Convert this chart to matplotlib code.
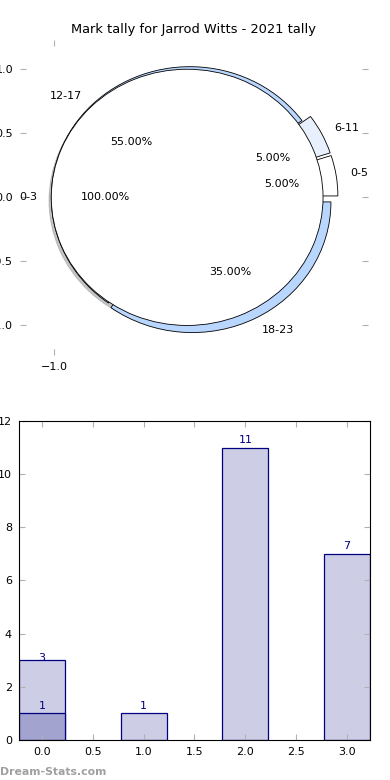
import matplotlib
matplotlib.use('Agg')
import matplotlib.pyplot as plt
from matplotlib.ticker import FuncFormatter

# outer ring: marks by minute band
ring_labels = ['0-5', '6-11', '12-17', '18-23']
ring_values = [1, 1, 11, 7]
ring_colors = ['#ffffff', '#e8f0fe', '#b8d6fe', '#b8d6fe']

# inner pie
inner_labels = ['0-3']
inner_values = [1]

# bar chart
bar_x = [0, 1, 2, 3]
bar_totals = [3, 1, 11, 7]
extra_x = [0]
extra_vals = [1]

tick_grey = '#b0b0b0'

plt.rcParams['font.family'] = ['DejaVu Sans']
plt.rcParams['font.size'] = 8

fig = plt.figure(figsize=(3.9, 7.8), dpi=100)

# ---- pie ----
ax1 = fig.add_axes([0.0513, 0.545, 0.892, 0.404])
ax1.pie(ring_values, labels=ring_labels, colors=ring_colors, explode=[0.07, 0.07, 0, 0.04],
        autopct='%1.2f%%', pctdistance=0.6, labeldistance=1.1, radius=1.02,
        startangle=0, counterclock=True,
        wedgeprops={'edgecolor': 'black', 'linewidth': 0.6},
        textprops={'fontsize': 8})
ax1.pie(inner_values, labels=inner_labels, colors=['white'], autopct='%1.2f%%',
        explode=[0.02], startangle=0,
        pctdistance=0.6, labeldistance=1.1, radius=1.0,
        shadow={'ox': -0.012, 'oy': -0.018, 'shade': 0.45},
        wedgeprops={'edgecolor': 'black', 'linewidth': 0.6},
        textprops={'fontsize': 8})
ax1.set_aspect('auto')
ax1.set_xlim(-1.25, 1.31)
ax1.set_ylim(-1.23, 1.23)
ax1.set_frame_on(False)
ax1.set_xticks([-1.0])
ax1.set_yticks([-1.0, -0.5, 0.0, 0.5, 1.0])
fmt = FuncFormatter(lambda v, p: ('%.1f' % v).replace('-', '\u2212'))
ax1.xaxis.set_major_formatter(fmt)
ax1.yaxis.set_major_formatter(fmt)
ax1.tick_params(direction='in', length=4, color=tick_grey, top=True, right=True,
                labelsize=8, pad=5)
ax1.set_title('Mark tally for Jarrod Witts - 2021 tally', fontsize=9.4, pad=5)

# ---- bars ----
ax2 = fig.add_axes([0.0487, 0.0513, 0.9, 0.409])
ax2.bar(bar_x, bar_totals, width=0.45, color='#cdcde6', edgecolor='navy', linewidth=0.9)
ax2.bar(extra_x, extra_vals, width=0.45, color='#a3a3d0', edgecolor='navy', linewidth=0.9)
total_offsets = [-0.12, 0.1, 0.1, 0.1]
for x, v, off in zip(bar_x, bar_totals, total_offsets):
    ax2.text(x, v + off, str(v), ha='center', va='bottom', color='navy', fontsize=8)
for x, v in zip(extra_x, extra_vals):
    ax2.text(x, v + 0.1, str(v), ha='center', va='bottom', color='navy', fontsize=8)
ax2.set_xlim(-0.225, 3.225)
ax2.set_ylim(0, 12)
ax2.set_xticks([0.0, 0.5, 1.0, 1.5, 2.0, 2.5, 3.0])
ax2.set_yticks(range(0, 13, 2))
ax2.tick_params(direction='in', length=4, color=tick_grey, top=True, right=True,
                labelsize=8, pad=5)

fig.text(0.0, 0.006, 'Dream-Stats.com', color='#a0a0a0', fontsize=7.8, fontweight='bold')

fig.savefig('out.png', dpi=100)
